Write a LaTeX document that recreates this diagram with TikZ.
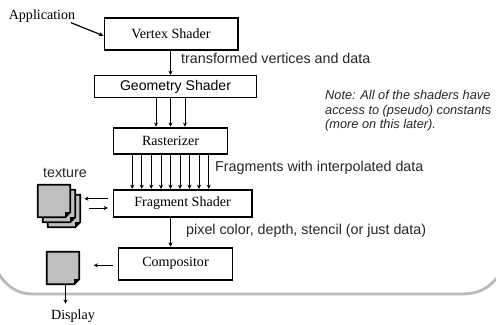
\documentclass[tikz,border=0pt]{standalone}
\usepackage{fontspec}
\setmainfont{Liberation Serif}
\setsansfont{Liberation Sans}
\usetikzlibrary{arrows.meta, positioning, calc}
% Foglio con angolo piegato
\newcommand{\drawpage}[1]{
    \draw[pageline] (#1.north west) -- (#1.north east) -- ([yshift=4.5pt]#1.south east)
        -- ([xshift=-4.5pt]#1.south east) -- (#1.south west) -- cycle;
    \fill[black] ([xshift=-4.5pt,yshift=4.5pt]#1.south east) -- ([yshift=4.5pt]#1.south east)
        -- ([xshift=-4.5pt]#1.south east) -- cycle;
}
\begin{document}
\begin{tikzpicture}[
    x=0.03cm, y=-0.03cm,
    % Stili per i blocchi
    stagebox/.style={rectangle, draw=black, line width=1.7pt, inner sep=0pt, font=\fontsize{12}{14}\selectfont},
    thinbox/.style={rectangle, draw=black, line width=0.9pt, inner sep=0pt, font=\sffamily\fontsize{12}{14}\selectfont},
    % Stili per le pagine
    page/.style={rectangle, inner sep=0pt, outer sep=0pt, minimum width=0.98cm, minimum height=0.98cm},
    pageline/.style={draw=black, line width=1.5pt, line join=round, fill=gray!50},
    % Stili per le connessioni
    flow/.style={-{Stealth[length=3.5pt,width=3.5pt]}, line width=0.7pt, black},
    inflow/.style={-{Stealth[length=4pt,width=3.5pt]}, line width=1pt, black},
    % Stili per il testo
    labeltext/.style={font=\sffamily\fontsize{12.2}{14}\selectfont, text=black!85, anchor=west, inner sep=0pt},
    seriftext/.style={font=\fontsize{12}{14}\selectfont, inner sep=0pt}
]
\useasboundingbox (0,0) rectangle (496,324);

% === CORNICE ===
\draw[gray!55, line width=2.4pt] (-3,271) to[out=-60,in=180] (33,294) -- (462,294) to[out=0,in=-125] (499,275);

% === BLOCCHI ===
\node[stagebox, minimum width=3.99cm, minimum height=0.98cm] (vertex) at (171,34) {Vertex Shader};
\node[thinbox, minimum width=4.86cm, minimum height=0.67cm] (geom) at (175.5,86.5) {Geometry Shader};
\node[stagebox, minimum width=3.42cm, minimum height=0.8cm] (rast) at (170.5,141) {Rasterizer};
\node[stagebox, minimum width=4.14cm, minimum height=0.82cm] (frag) at (182.5,203.5) {Fragment Shader};
\node[stagebox, minimum width=3.42cm, minimum height=0.96cm] (comp) at (175.5,263.5) {Compositor};

% === PAGINE ===
\node[page] (tex3) at (64,211) {};
\node[page] (tex2) at (59,206) {};
\node[page] (tex1) at (54,201) {};
\node[page] (disp) at (63,268) {};
\foreach \n in {tex3,tex2,tex1,disp} {
    \drawpage{\n}
}

% === TESTI ===
\node[seriftext] (app) at (42,16) {Application};
\node[seriftext] (dispname) at (73,316) {Display};
\node[font=\sffamily\fontsize{12.2}{14}\selectfont, text=black!85, inner sep=0pt] (texname) at (65,173) {texture};
\node[labeltext] (tvd) at (181,58) {transformed vertices and data};
\node[labeltext] (fwi) at (215,168) {Fragments with interpolated data};
\node[labeltext] (pcd) at (186,231) {pixel color, depth, stencil (or just data)};
\node[font=\sffamily\itshape\fontsize{10.9}{12.75}\selectfont, text=black!85, anchor=west, align=left, inner sep=0pt] (note) at (325,110.7) {Note: All of the shaders have\\access to (pseudo) constants\\(more on this later).};

% === CONNESSIONI ===
\coordinate (mid) at (170.5,0);
\coordinate (dropx) at (65.5,0);
\draw[inflow] (app.south east) ++(-4pt,0pt) coordinate (appout) -- ([yshift=-1.5pt]vertex.west);
\draw[flow] (vertex.south -| mid) -- (geom.north -| mid);
\foreach \x in {156,170.5,185} {
    \coordinate (gx) at (\x,0);
    \draw[flow] (geom.south -| gx) -- (rast.north -| gx);
}
\foreach \x in {132.3,141.8,151.3,161,170.5,180,189.5,199,208.7} {
    \coordinate (fx) at (\x,0);
    \draw[flow] (rast.south -| fx) -- (frag.north -| fx);
}
\draw[flow] (frag.south -| mid) -- (comp.north -| mid);

\coordinate (up) at (0,198.7);
\coordinate (down) at (0,208);
\coordinate (back) at (0,265.3);
\draw[flow, shorten >=3.4pt, shorten <=4pt] (frag.west |- up) -- (tex3.east |- up);
\draw[flow, shorten >=4pt, shorten <=7.6pt] (tex3.east |- down) -- (frag.west |- down);
\draw[flow, shorten >=12.3pt, shorten <=4pt] (comp.west |- back) -- (disp.east |- back);
\draw[flow, shorten >=5pt] (disp.south -| dropx) -- (dispname.north -| dropx);
\end{tikzpicture}
\end{document}
